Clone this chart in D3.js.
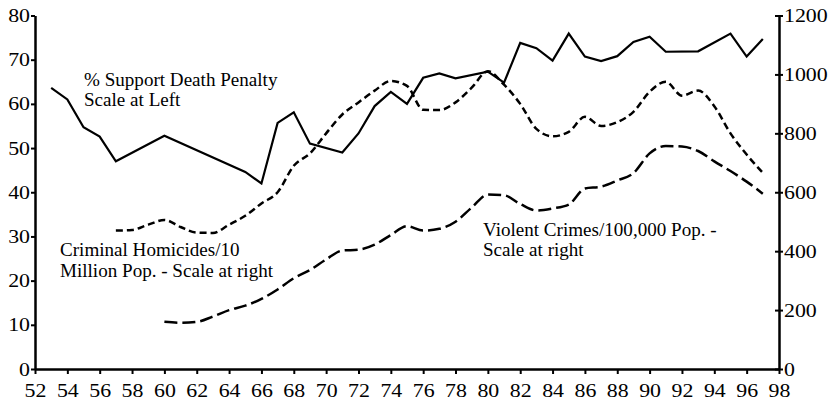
<!DOCTYPE html>
<html><head><meta charset="utf-8">
<script src="https://cdn.jsdelivr.net/npm/d3@7"></script>
<style>body{margin:0;background:#fff}svg{display:block}</style>
</head><body><svg id="c" width="831" height="400"></svg>
<script>
// % support death penalty (left scale)
const supportYears = [53,54,55,56,57,60,65,66,67,68,69,71,72,73,74,75,76,77,78,80,81,82,83,84,85,86,87,88,89,90,91,93,95,96,97];
const supportValues = [63.6,61,54.7,52.6,47,52.8,44.6,42,55.7,58.1,51,49,53.3,59.5,62.7,60,65.9,66.9,65.8,67.3,64.8,73.8,72.6,69.8,75.9,70.7,69.7,70.8,74,75.2,71.8,71.9,75.9,70.7,74.7];
// criminal homicides / 10 million pop (right scale)
const homicideYears = [57,58,59,60,61,62,63,64,65,66,67,68,69,70,71,72,73,74,75,76,77,78,79,80,81,82,83,84,85,86,87,88,89,90,91,92,93,94,95,96,97];
const homicideValues = [470,472,490,506,482,463,462,490,520,562,600,690,732,800,864,905,945,978,961,880,879,905,955,1011,965,900,815,790,805,856,825,838,873,941,975,928,945,892,800,728,666];
// violent crimes / 100,000 pop (right scale)
const violentYears = [60,61,62,63,64,65,66,67,68,69,70,71,72,73,74,75,76,77,78,79,80,81,82,83,84,85,86,87,88,89,90,91,92,93,94,95,96,97];
const violentValues = [160,157,160,178,200,215,238,270,308,336,372,402,405,422,455,485,470,476,500,548,592,590,560,538,545,558,613,619,640,665,732,757,755,740,705,672,636,595];
const xTicks = d3.range(52,99,2);
const leftTicks = [0,10,20,30,40,50,60,70,80];
const rightTicks = [0,200,400,600,800,1000,1200];

const FONT = "'Liberation Serif'";
const svg = d3.select("#c");
const x = d3.scaleLinear().domain([52,98]).range([35,779]);
const yL = d3.scaleLinear().domain([0,80]).range([369,15.5]);
const yR = d3.scaleLinear().domain([0,1200]).range([369,15.5]);

function stretch(sel, k){
  sel.each(function(){
    const w = this.getComputedTextLength();
    d3.select(this).attr("textLength", w*k).attr("lengthAdjust","spacingAndGlyphs");
  });
}

// x axis
const gx = svg.append("g").attr("transform","translate(0,369)")
  .call(d3.axisBottom(x).tickValues(xTicks).tickSize(5).tickSizeOuter(0).tickFormat(d=>d));
gx.select(".domain").attr("stroke-width",2.5);
gx.selectAll(".tick line").attr("stroke-width",2);
gx.selectAll("text").attr("dy","0.72em").attr("y",14);

// left axis
const gl = svg.append("g").attr("transform","translate(35,0)")
  .call(d3.axisLeft(yL).tickValues(leftTicks).tickSize(4).tickSizeOuter(0));
gl.select(".domain").attr("stroke-width",2.5);
gl.selectAll(".tick line").attr("stroke-width",2);
gl.selectAll("text").attr("x",-5);

// right axis
const gr = svg.append("g").attr("transform","translate(779,0)")
  .call(d3.axisRight(yR).tickValues(rightTicks).tickSize(4).tickSizeOuter(0).tickFormat(d3.format("d")));
gr.select(".domain").attr("stroke-width",2.5);
gr.selectAll(".tick line").attr("x1",-4).attr("stroke-width",2);
gr.selectAll("text").attr("x",5);

svg.selectAll("g").attr("font-family",null).attr("font-size",null);
const tickTexts = svg.selectAll(".tick text").style("font-family",FONT).style("font-size","19px").attr("fill","#000");
stretch(tickTexts, 1.15);

const lineL = d3.line().x(d=>x(d[0])).y(d=>yL(d[1]));
const lineR = d3.line().x(d=>x(d[0])).y(d=>yR(d[1])).curve(d3.curveMonotoneX);

svg.append("path").datum(supportYears.map((y,i)=>[y,supportValues[i]]))
  .attr("d",lineL).attr("fill","none").attr("stroke","#000").attr("stroke-width",2.2).attr("stroke-linejoin","miter");
svg.append("path").datum(homicideYears.map((y,i)=>[y,homicideValues[i]]))
  .attr("d",lineR).attr("fill","none").attr("stroke","#000").attr("stroke-width",2.5).attr("stroke-dasharray","7,4");
svg.append("path").datum(violentYears.map((y,i)=>[y,violentValues[i]]))
  .attr("d",lineR).attr("fill","none").attr("stroke","#000").attr("stroke-width",2.5).attr("stroke-dasharray","13,5");

const labels = [
  {x:84, y:86, t:"% Support Death Penalty"},
  {x:84, y:106, t:"Scale at Left"},
  {x:60, y:256, t:"Criminal Homicides/10"},
  {x:60, y:277, t:"Million Pop. - Scale at right"},
  {x:483, y:236, t:"Violent Crimes/100,000 Pop. -"},
  {x:483, y:256, t:"Scale at right"}
];
const labs = svg.selectAll("text.lab").data(labels).enter().append("text").attr("class","lab")
  .attr("x",d=>d.x).attr("y",d=>d.y).style("font-family",FONT).style("font-size","18px").attr("fill","#000").text(d=>d.t);
stretch(labs, 1.06);
</script></body></html>
